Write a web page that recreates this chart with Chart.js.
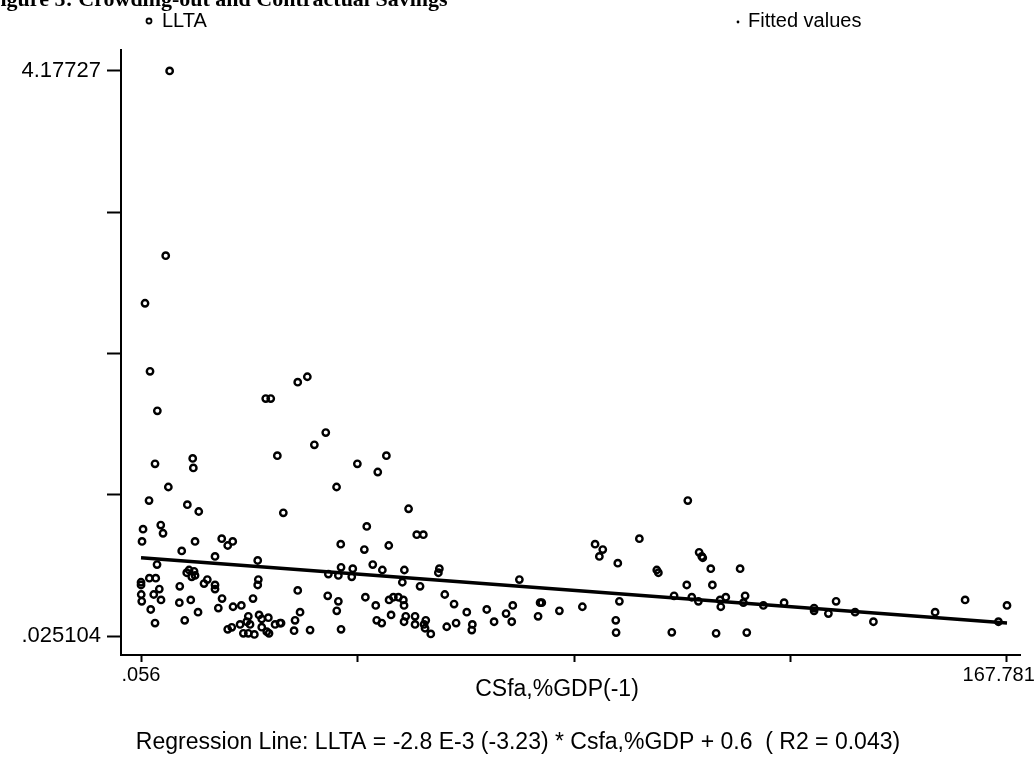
<!DOCTYPE html>
<html>
<head>
<meta charset="utf-8">
<script src="https://cdn.jsdelivr.net/npm/chart.js@4"></script>
<style>
  html, body { margin: 0; padding: 0; background: #fff; }
</style>
</head>
<body>
<canvas id="myChart" width="1036" height="771"></canvas>
<script>
// LLTA vs CSfa,%GDP(-1)
let llX = [
  5.6, 4.84, 0.83, 1.80, 3.22, 24.21, 25.18, 30.41, 32.27, 35.84,
  33.63, 26.46, 47.58, 41.96, 45.91, 37.93, 51.88, 2.77, 10.07, 10.19,
  5.35, 1.61, 9.03, 11.24, 27.62, 3.88, 0.45, 4.32, 0.25, 10.52,
  15.69, 17.82, 16.85, 7.94, 14.39, 22.66, 3.16, 9.36, 10.33, 8.91,
  9.88, 10.52, 1.67, 2.91, 12.90, 12.26, 0.06, 0.06, 0.10, 0.20,
  3.60, 2.52, 3.93, 7.56, 14.39, 14.39, 22.78, 22.66, 15.75, 9.69,
  7.48, 21.75, 1.94, 15.03, 17.88, 19.49, 11.10, 2.77, 8.52, 22.92,
  24.72, 23.44, 20.84, 20.53, 19.24, 21.17, 19.88, 20.84, 22.01, 23.44,
  24.41, 24.85, 26.02, 27.18, 16.85, 17.63, 43.78, 53.46, 54.74, 38.74,
  43.31, 48.04, 38.80, 41.07, 40.87, 44.94, 46.80, 51.06, 57.84, 57.65,
  36.34, 38.28, 50.67, 54.10, 30.41, 36.22, 38.28, 43.51, 48.10, 48.93,
  49.90, 50.87, 51.00, 45.52, 58.89, 30.86, 37.97, 48.49, 51.33, 53.13,
  26.98, 29.89, 29.70, 32.80, 38.80, 45.71, 46.68, 51.00, 53.13, 55.21,
  54.88, 55.07, 56.18, 59.27, 73.34, 60.69, 63.15, 67.02, 72.06, 70.76,
  61.08, 64.23, 64.12, 68.44, 71.86, 77.35, 77.68, 76.96, 81.09, 85.54,
  88.00, 89.49, 88.83, 92.40, 92.71, 92.01, 92.07, 96.58, 99.95, 100.26,
  102.86, 103.30, 105.76, 105.96, 106.73, 108.01, 108.15, 108.67, 108.86, 110.41,
  110.72, 111.44, 112.21, 112.35, 113.32, 116.09, 117.06, 116.73, 117.38, 120.60,
  124.61, 130.42, 130.42, 133.19, 134.68, 138.36, 141.91, 153.86, 159.67, 166.12,
  167.781
];
let llY = [
  4.177, 2.82, 2.47, 1.97, 1.68, 1.77, 1.77, 1.89, 1.93, 1.52,
  1.43, 1.35, 1.35, 1.29, 1.23, 1.12, 0.96, 1.29, 1.33, 1.26,
  1.12, 1.02, 0.99, 0.94, 0.93, 0.84, 0.81, 0.78, 0.72, 0.72,
  0.74, 0.72, 0.69, 0.65, 0.61, 0.58, 0.55, 0.51, 0.50, 0.49,
  0.46, 0.47, 0.45, 0.45, 0.44, 0.41, 0.42, 0.40, 0.33, 0.28,
  0.37, 0.33, 0.29, 0.39, 0.40, 0.37, 0.44, 0.40, 0.30, 0.29,
  0.27, 0.30, 0.22, 0.23, 0.24, 0.25, 0.20, 0.12, 0.14, 0.18,
  0.16, 0.15, 0.17, 0.13, 0.11, 0.11, 0.045, 0.045, 0.037, 0.09,
  0.057, 0.045, 0.11, 0.12, 0.074, 0.089, 0.83, 0.77, 0.77, 0.70,
  0.66, 0.69, 0.53, 0.52, 0.46, 0.55, 0.51, 0.51, 0.52, 0.49,
  0.48, 0.47, 0.42, 0.39, 0.36, 0.32, 0.28, 0.31, 0.29, 0.31,
  0.31, 0.29, 0.25, 0.25, 0.33, 0.20, 0.21, 0.18, 0.17, 0.17,
  0.12, 0.14, 0.064, 0.069, 0.074, 0.14, 0.12, 0.13, 0.11, 0.14,
  0.11, 0.082, 0.04, 0.093, 0.44, 0.26, 0.20, 0.22, 0.25, 0.19,
  0.12, 0.11, 0.069, 0.13, 0.13, 0.27, 0.27, 0.17, 0.21, 0.24,
  0.70, 0.66, 0.61, 0.56, 0.28, 0.14, 0.05, 0.74, 0.51, 0.49,
  0.052, 0.32, 0.40, 1.02, 0.31, 0.28, 0.64, 0.61, 0.60, 0.52,
  0.40, 0.045, 0.29, 0.24, 0.31, 0.52, 0.32, 0.27, 0.05, 0.25,
  0.27, 0.23, 0.21, 0.19, 0.28, 0.20, 0.13, 0.20, 0.29, 0.13,
  0.25
];

// fitted values (regression line end points)
let fitX = [0.056, 167.781];
let fitY = [0.600, 0.121];

// ticks: only min and max carry labels
let xTicks = [0.056, 41.987, 83.919, 125.850, 167.781];
let xTickLabels = ['.056', '', '', '', '167.781\u00a0\u00a0\u00a0'];
let yTicks = [0.025104, 1.063146, 2.101187, 3.139229, 4.17727];
let yTickLabels = ['.025104', '', '', '', '4.17727'];

let fontSans = '"Liberation Sans", Arial, sans-serif';

let pageText = {
  id: 'pageText',
  afterDraw(chart) {
    let c = chart.ctx;
    c.save();
    c.fillStyle = '#000';
    c.strokeStyle = '#000';

    // clipped figure caption at the very top of the scan
    c.font = 'bold 22px "Liberation Serif", "Times New Roman", serif';
    c.textAlign = 'left';
    c.textBaseline = 'alphabetic';
    c.fillText('Figure 5: Crowding-out and Contractual Savings', -13, 6);

    // legend
    c.font = '20px ' + fontSans;
    c.textBaseline = 'middle';
    c.lineWidth = 1.8;
    c.beginPath();
    c.arc(149, 21, 2.5, 0, Math.PI * 2);
    c.stroke();
    c.fillText('LLTA', 162, 21);
    c.beginPath();
    c.arc(738, 22, 1.4, 0, Math.PI * 2);
    c.fill();
    c.fillText('Fitted values', 748, 21);

    // axis title and regression note
    c.font = '23px ' + fontSans;
    c.textAlign = 'center';
    c.fillText('CSfa,%GDP(-1)', 557, 690);
    c.fillText('Regression Line: LLTA = -2.8 E-3 (-3.23) * Csfa,%GDP + 0.6  ( R2 = 0.043)', 518, 743);
    c.restore();
  }
};

let ctx = document.getElementById('myChart');

let myChart = new Chart(ctx, {
  type: 'scatter',
  data: {
    datasets: [{
      label: 'Fitted values',
      data: fitX.map((x, i) => ({ x: x, y: fitY[i] })),
      showLine: true,
      borderColor: '#000',
      borderWidth: 3.5,
      pointRadius: 0
    }, {
      label: 'LLTA',
      data: llX.map((x, i) => ({ x: x, y: llY[i] })),
      pointRadius: 3.2,
      pointBorderWidth: 2.4,
      borderColor: '#000',
      backgroundColor: 'rgba(255,255,255,0)'
    }]
  },
  options: {
    responsive: false,
    animation: false,
    layout: { padding: { left: 0, right: 16, top: 50, bottom: 0 } },
    plugins: {
      legend: { display: false },
      tooltip: { enabled: false }
    },
    scales: {
      x: {
        type: 'linear',
        min: -3.82,
        max: 170.3,
        afterBuildTicks: s => { s.ticks = xTicks.map(v => ({ value: v })); },
        afterFit: s => { s.height = 116; s.paddingLeft = 0; s.paddingRight = 0; },
        grid: { drawOnChartArea: false, tickLength: 7, tickWidth: 2, tickColor: '#000' },
        border: { color: '#000', width: 2 },
        ticks: {
          autoSkip: false,
          maxRotation: 0,
          padding: 1,
          color: '#000',
          font: { family: fontSans, size: 20 },
          callback: (v, i) => xTickLabels[i]
        }
      },
      y: {
        type: 'linear',
        min: -0.1145,
        max: 4.331,
        afterBuildTicks: s => { s.ticks = yTicks.map(v => ({ value: v })); },
        afterFit: s => { s.width = 121; s.paddingTop = 0; s.paddingBottom = 0; },
        grid: { drawOnChartArea: false, tickLength: 14, tickWidth: 2, tickColor: '#000' },
        border: { color: '#000', width: 2 },
        ticks: {
          autoSkip: false,
          padding: 6,
          color: '#000',
          font: { family: fontSans, size: 22 },
          callback: (v, i) => yTickLabels[i]
        }
      }
    }
  },
  plugins: [pageText]
});
</script>
</body>
</html>
